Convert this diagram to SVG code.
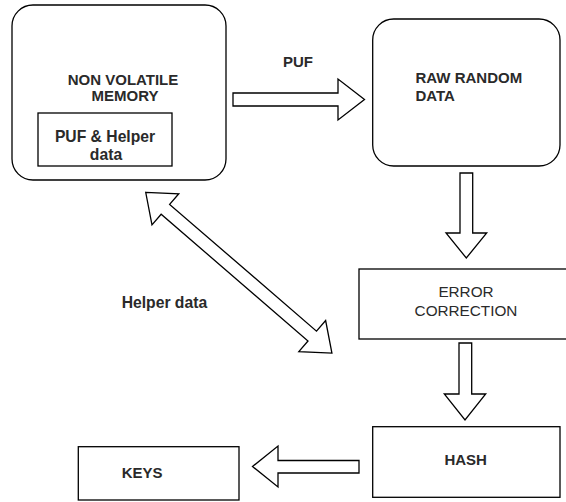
<svg xmlns="http://www.w3.org/2000/svg" width="566" height="502" viewBox="0 0 566 502">
<style>
.box{fill:#fff;stroke:#000;stroke-width:1.3}
.arr{fill:#fff;stroke:#000;stroke-width:1.3;stroke-linejoin:miter}
text{font-family:"Liberation Sans",Arial,sans-serif;fill:#2a2a2a;font-size:15px}
.b{font-weight:bold}
.m{text-anchor:middle}
</style>
<rect width="566" height="502" fill="#fff"/>
<g id="nvm">
<rect class="box" x="12" y="5" width="214" height="175" rx="21" ry="21"/>
<text class="b m" x="123" y="85">NON VOLATILE</text>
<text class="b m" x="125" y="100.5">MEMORY</text>
</g>
<g id="puf-helper">
<rect class="box" x="38" y="113" width="134" height="53"/>
<text class="b m" x="105" y="142" style="font-size:15.7px">PUF &amp; Helper</text>
<text class="b m" x="106" y="160" style="font-size:15.7px">data</text>
</g>
<g id="raw">
<rect class="box" x="372.7" y="19" width="187.3" height="147" rx="21" ry="21"/>
<text class="b" x="415.5" y="82.5">RAW RANDOM</text>
<text class="b" x="415.5" y="100.5">DATA</text>
</g>
<g id="ecc">
<rect class="box" x="359" y="269" width="212" height="70"/>
<text class="m" x="466" y="296.5" style="font-size:15.3px">ERROR</text>
<text class="m" x="466" y="316" style="font-size:15.3px">CORRECTION</text>
</g>
<g id="hash">
<rect class="box" x="372.7" y="426.7" width="187.3" height="70.6"/>
<text class="b m" x="465.7" y="465">HASH</text>
</g>
<g id="keys">
<rect class="box" x="78.3" y="446.7" width="160.7" height="53.3"/>
<text class="b" x="121.7" y="478.3">KEYS</text>
</g>
<g id="connectors">
<polygon class="arr" points="233,93 338,93 338,79 364.5,99.5 338,120 338,106 233,106"/>
<polygon class="arr" points="460,173 472.7,173 472.7,233 486.7,233 466.3,258 446,233 460,233"/>
<polygon class="arr" points="459,343 471.7,343 471.7,394 485.7,394 465,420 444.3,394 459,394"/>
<polygon class="arr" points="359,460.5 278,460.5 278,446 252.5,466.5 278,487 278,473 359,473"/>
<g transform="translate(145.7,192.3) rotate(40.8)">
<polygon class="arr" points="0,0 26,-20.5 26,-6.5 220,-6.5 220,-20.5 246,0 220,20.5 220,6.5 26,6.5 26,20.5"/>
</g>
<text class="b" x="283" y="67">PUF</text>
<text class="b" x="121.7" y="308" style="font-size:15.7px">Helper data</text>
</g>
</svg>
